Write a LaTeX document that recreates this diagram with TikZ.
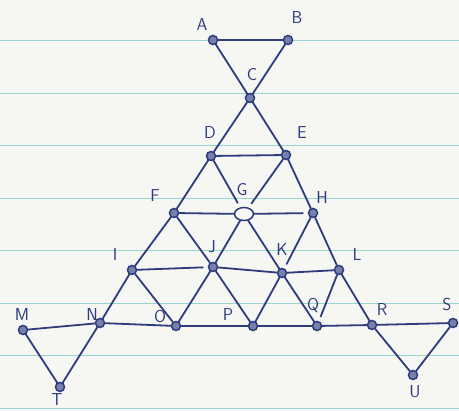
\documentclass[tikz,border=0pt]{standalone}
\usepackage{tikz}
\usetikzlibrary{positioning,shapes.geometric,backgrounds}
\definecolor{gink}{RGB}{46,60,126}
\definecolor{gpaper}{RGB}{246,246,243}
\definecolor{grule}{RGB}{150,214,208}
\tikzset{
  vtx/.style={circle, draw=gink, fill=gink!65, line width=1.5pt,
    inner sep=0pt, minimum size=9pt},
  hub/.style={ellipse, draw=gink, fill=gpaper, line width=1.5pt,
    inner sep=0pt, minimum width=19pt, minimum height=13pt},
  lbl/.style={font=\LARGE\sffamily, text=gink},
  link/.style={draw=gink, line width=1.8pt, line cap=round},
  gap/.style={link, shorten >=5pt},
  rulel/.style={draw=grule, line width=0.7pt}
}

\begin{document}
\begin{tikzpicture}[x=1pt,y=-1pt]
  \useasboundingbox (0,0) rectangle (459,411);
  % vertices, top triangle first
  \node[vtx] (A) at (213,40) {};
  \node[vtx] (B) at (288,40) {};
  \node[vtx] (C) at (250,98) {};
  \node[vtx] (D) at (211,156) {};
  \node[vtx] (E) at (286,155) {};
  \node[vtx] (F) at (174,213) {};
  \node[hub] (G) at (244,214) {};
  \node[vtx] (H) at (313,213) {};
  \node[vtx] (I) at (132,270) {};
  \node[vtx] (J) at (213,267) {};
  \node[vtx] (K) at (282,273) {};
  \node[vtx] (L) at (339,270) {};
  \node[vtx] (M) at (23,330) {};
  \node[vtx] (N) at (100,323) {};
  \node[vtx] (O) at (176,326) {};
  \node[vtx] (P) at (253,326) {};
  \node[vtx] (Q) at (317,326) {};
  \node[vtx] (R) at (372,325) {};
  \node[vtx] (S) at (453,323) {};
  \node[vtx] (T) at (60,387) {};
  \node[vtx] (U) at (413,375) {};

  \node[lbl] (lA) at (202,25) {A};
  \node[lbl] (lB) at (297,18) {B};
  \node[lbl] (lC) at (252,75) {C};
  \node[lbl] (lD) at (210,133) {D};
  \node[lbl] (lE) at (302,133) {E};
  \node[lbl] (lF) at (155,196) {F};
  \node[lbl] (lG) at (242,190) {G};
  \node[lbl] (lH) at (322,198) {H};
  \node[lbl] (lI) at (115,255) {I};
  \node[lbl] (lJ) at (212,247) {J};
  \node[lbl] (lK) at (282,250) {K};
  \node[lbl] (lL) at (357,255) {L};
  \node[lbl] (lM) at (22,315) {M};
  \node[lbl] (lN) at (92,315) {N};
  \node[lbl] (lO) at (160,317) {O};
  \node[lbl] (lP) at (228,315) {P};
  \node[lbl] (lQ) at (313,305) {Q};
  \node[lbl] (lR) at (382,310) {R};
  \node[lbl] (lS) at (447,305) {S};
  \node[lbl] (lT) at (57,400) {T};
  \node[lbl] (lU) at (415,392) {U};

  \begin{scope}[on background layer]
    % ruled paper
    \fill[gpaper] (0,0) rectangle (459,411);
    \foreach \y in {40.5,93,...,410} {
      \draw[rulel] (0,\y) -- (459,\y);
    }
    \foreach \a/\b in {A/B,A/C,B/C,C/D,C/E,D/E,D/F,E/H,F/G,
        F/I,F/J,G/J,G/K,H/L,J/K,K/L,I/N,I/O,J/O,J/P,K/P,K/Q,L/R,
        N/O,O/P,P/Q,Q/R,M/N,M/T,N/T,R/S,R/U,S/U} {
      \draw[link] (\a) -- (\b);
    }
    % strokes that stop short of the vertex
    \foreach \a/\b in {D/G,E/G,G/H,I/J,H/K,L/Q} {
      \draw[gap] (\a) -- (\b);
    }
  \end{scope}
\end{tikzpicture}
\end{document}
